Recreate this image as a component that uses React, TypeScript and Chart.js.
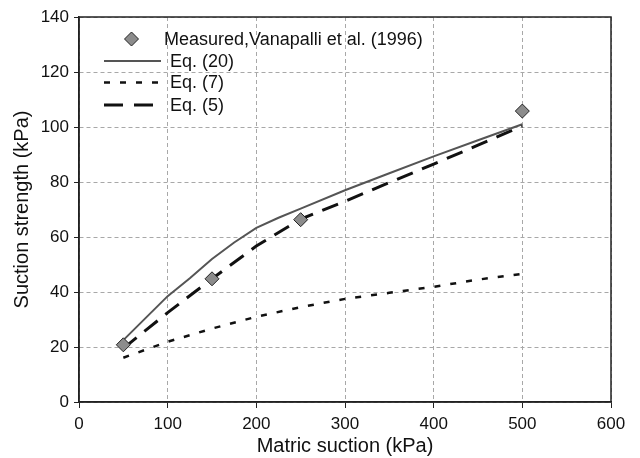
import React, { useEffect, useRef } from "react";
import { Chart, registerables } from "chart.js";

Chart.register(...registerables);

const measuredX = [50, 150, 250, 500];
const measuredY = [20.8, 44.8, 66.3, 105.8];

const eq20X = [50, 75, 100, 125, 150, 175, 200, 225, 250, 300, 350, 400, 450, 500];
const eq20Y = [22.5, 30.5, 38.5, 45, 52, 58, 63.3, 67, 70.3, 77, 83.2, 89.3, 95.2, 101];

const eq7X = [50, 100, 150, 200, 250, 300, 350, 400, 450, 500];
const eq7Y = [16.1, 21.9, 26.7, 31, 34.5, 37.5, 39.7, 41.9, 44.5, 46.6];

const eq5X = [50, 100, 150, 200, 250, 300, 350, 400, 450, 500];
const eq5Y = [19.5, 32.5, 44.8, 56.7, 66.5, 73, 79.8, 86.5, 93.4, 100.4];

const xTicks = [0, 100, 200, 300, 400, 500, 600];
const yTicks = [0, 20, 40, 60, 80, 100, 120, 140];

const legendLabels = ["Measured,Vanapalli et al. (1996)", "Eq. (20)", "Eq. (7)", "Eq. (5)"];

const FONT = "'Liberation Sans', Arial, Helvetica, sans-serif";

const pts = (xs: number[], ys: number[]) => xs.map((x, i) => ({ x, y: ys[i] }));

const framePlugin = {
  id: "frameAndLegend",
  afterDraw(chart: any) {
    const { ctx, chartArea } = chart;
    ctx.save();
    // box frame
    ctx.strokeStyle = "#222";
    ctx.lineWidth = 1.5;
    ctx.setLineDash([]);
    ctx.strokeRect(chartArea.left, chartArea.top, chartArea.right - chartArea.left, chartArea.bottom - chartArea.top);

    // legend
    ctx.font = `18px ${FONT}`;
    ctx.fillStyle = "#111";
    ctx.textBaseline = "middle";
    ctx.textAlign = "left";
    const dx = 131.5, dy = 39;
    const r = 7;
    ctx.beginPath();
    ctx.moveTo(dx, dy - r);
    ctx.lineTo(dx + r, dy);
    ctx.lineTo(dx, dy + r);
    ctx.lineTo(dx - r, dy);
    ctx.closePath();
    ctx.fillStyle = "#8c8c8c";
    ctx.fill();
    ctx.strokeStyle = "#222";
    ctx.lineWidth = 1;
    ctx.stroke();
    ctx.fillStyle = "#111";
    ctx.fillText(legendLabels[0], 164, dy + 1);

    const rows = [
      { y: 61, color: "#555", width: 2, dash: [] as number[], x2: 161 },
      { y: 82.5, color: "#111", width: 2.5, dash: [6, 10], x2: 161 },
      { y: 105, color: "#111", width: 3, dash: [19, 11], x2: 154 },
    ];
    rows.forEach((row, i) => {
      ctx.beginPath();
      ctx.strokeStyle = row.color;
      ctx.lineWidth = row.width;
      ctx.setLineDash(row.dash);
      ctx.moveTo(104, row.y);
      ctx.lineTo(row.x2, row.y);
      ctx.stroke();
      ctx.setLineDash([]);
      ctx.fillStyle = "#111";
      ctx.fillText(legendLabels[i + 1], 170, row.y + 1);
    });
    ctx.restore();
  },
};

export default function App() {
  const ref = useRef<HTMLCanvasElement | null>(null);
  useEffect(() => {
    if (!ref.current) return;
    const chart = new Chart(ref.current, {
      type: "scatter",
      data: {
        datasets: [
          {
            label: legendLabels[0],
            data: pts(measuredX, measuredY),
            showLine: false,
            pointStyle: "rectRot",
            pointRadius: 7,
            pointBackgroundColor: "#8c8c8c",
            pointBorderColor: "#222",
            pointBorderWidth: 1,
          },
          {
            label: legendLabels[1],
            data: pts(eq20X, eq20Y),
            showLine: true,
            borderColor: "#555",
            borderWidth: 2,
            pointRadius: 0,
            tension: 0,
          },
          {
            label: legendLabels[2],
            data: pts(eq7X, eq7Y),
            showLine: true,
            borderColor: "#111",
            borderWidth: 2.5,
            borderDash: [6, 10],
            pointRadius: 0,
            tension: 0,
          },
          {
            label: legendLabels[3],
            data: pts(eq5X, eq5Y),
            showLine: true,
            borderColor: "#111",
            borderWidth: 3,
            borderDash: [17, 10],
            pointRadius: 0,
            tension: 0,
          },
        ],
      } as any,
      options: {
        animation: false,
        responsive: false,
        devicePixelRatio: 1,
        layout: { padding: { top: 17, right: 29, left: 0, bottom: 0 } },
        plugins: { legend: { display: false }, tooltip: { enabled: false } },
        scales: {
          x: {
            type: "linear",
            min: xTicks[0],
            max: xTicks[xTicks.length - 1],
            afterBuildTicks: (s: any) => {
              s.ticks = xTicks.map((v) => ({ value: v }));
            },
            afterFit: (s: any) => {
              s.height = 56;
            },
            ticks: { color: "#111", font: { size: 17, family: FONT }, padding: 6, maxRotation: 0 },
            grid: {
              color: "#a8a8a8",
              lineWidth: 1,
              tickLength: 6,
              tickColor: "#222",
              tickBorderDash: [],
            } as any,
            border: { color: "#222", width: 1.5, dash: [4, 3] } as any,
            title: {
              display: true,
              text: "Matric suction (kPa)",
              color: "#111",
              font: { size: 20, family: FONT },
              padding: { top: 0, bottom: 0 },
            },
          },
          y: {
            type: "linear",
            min: yTicks[0],
            max: yTicks[yTicks.length - 1],
            afterBuildTicks: (s: any) => {
              s.ticks = yTicks.map((v) => ({ value: v }));
            },
            afterFit: (s: any) => {
              s.width = 79;
            },
            ticks: { color: "#111", font: { size: 17, family: FONT }, padding: 5 },
            grid: {
              color: "#a8a8a8",
              lineWidth: 1,
              tickLength: 5,
              tickColor: "#222",
              tickBorderDash: [],
            } as any,
            border: { color: "#222", width: 1.5, dash: [4, 3] } as any,
            title: {
              display: true,
              text: "Suction strength (kPa)",
              color: "#111",
              font: { size: 20, family: FONT },
              padding: { top: 10, bottom: 0 },
            },
          },
        },
      } as any,
      plugins: [framePlugin],
    });
    return () => chart.destroy();
  }, []);
  return (
    <div style={{ position: "fixed", left: 0, top: 0, width: 640, height: 458, background: "#fff" }}>
      <canvas ref={ref} width={640} height={458} style={{ display: "block" }} />
    </div>
  );
}
